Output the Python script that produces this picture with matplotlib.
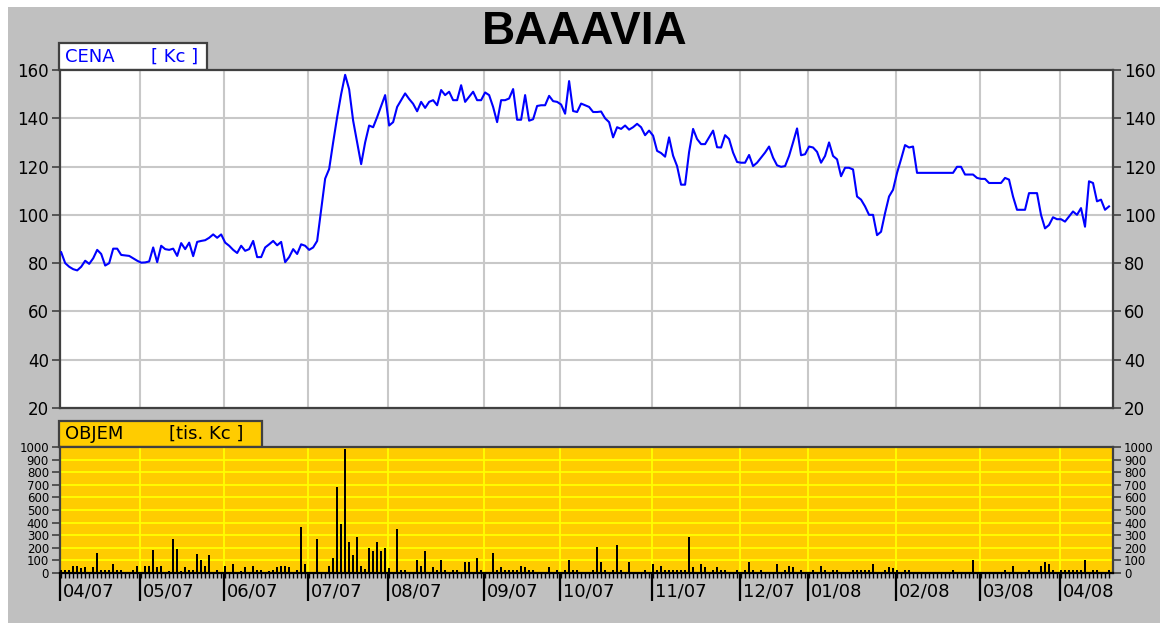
import matplotlib
matplotlib.use("Agg")
import matplotlib.pyplot as plt
import matplotlib.patches as patches
from matplotlib.transforms import blended_transform_factory
import numpy as np

W, H = 1160, 623

month_labels = ["04/07", "05/07", "06/07", "07/07", "08/07", "09/07", "10/07",
                "11/07", "12/07", "01/08", "02/08", "03/08", "04/08"]

# daily close price [Kc], one list per month (trading days)
price_04_07 = [84.5, 80, 78.5, 77.5, 77, 78.5, 81, 79.7, 82, 85.5, 83.8, 79, 80, 86, 86,
               83.4, 83.2, 83, 82, 81]
price_05_07 = [80.2, 80.3, 80.7, 86.5, 80.4, 87.2, 85.8, 85.5, 86, 83, 88.3, 85.8, 88.5,
               82.9, 88.8, 89.2, 89.5, 90.5, 91.9, 90.5, 91.9]
price_06_07 = [88.5, 87.2, 85.5, 84.2, 87.2, 85.1, 85.8, 89.2, 82.5, 82.5, 86.5, 87.8, 89.2,
               87.4, 88.8, 80.4, 82.5, 85.8, 83.8, 87.8, 87.2]
price_07_07 = [85.5, 86.5, 89.2, 102, 115, 119, 130, 140.5, 150, 158, 152, 139, 130, 121,
               130, 137, 136.3, 140.5, 145, 149.6]
price_08_07 = [137, 138.4, 144.7, 147.5, 150.3, 148, 146, 142.9, 146.8, 144.3, 146.8, 147.5,
               145.4, 151.7, 149.6, 151, 147.5, 147.5, 153.7, 146.8, 148.9, 151, 147.5, 147.5]
price_09_07 = [150.7, 149.6, 144.7, 138.4, 147.5, 147.5, 148.2, 152.1, 139.4, 139.4, 149.6,
               139, 139.6, 145.1, 145.4, 145.4, 149.3, 147.1, 146.8]
price_10_07 = [145.7, 141.9, 155.4, 143, 142.6, 146.1, 145.4, 144.7, 142.6, 142.6, 142.8,
               140, 138.4, 132.1, 136.3, 135.6, 137, 135.3, 136.3, 137.7, 136.3, 133, 134.9]
price_11_07 = [132.8, 126.5, 125.6, 124.1, 132.1, 124.5, 120.2, 112.5, 112.5, 126, 135.6,
               131.4, 129.3, 129.3, 132.1, 134.9, 128, 127.9, 133, 131.4, 125.8, 121.9]
price_12_07 = [121.6, 121.6, 124.8, 120.2, 121.6, 123.7, 125.8, 128.3, 123.7, 120.5, 119.9,
               120.2, 124.4, 130, 135.8, 124.7, 125.1]
price_01_08 = [128.3, 127.9, 126.1, 121.6, 124.4, 130, 124.4, 123, 116, 119.5, 119.5, 118.8,
               107.6, 106.3, 103.5, 100, 100, 91.6, 93, 100.7, 107.6, 110.4]
price_02_08 = [117.4, 123, 128.9, 127.9, 128.3, 117.4, 117.4, 117.4, 117.4, 117.4, 117.4,
               117.4, 117.4, 117.4, 117.4, 119.9, 119.9, 116.7, 116.7, 116.7, 115.3]
price_03_08 = [114.9, 114.9, 113.2, 113.2, 113.2, 113.2, 115.3, 114.6, 107.6, 102.1, 102.1,
               102.1, 109, 109, 109, 100, 94.4, 95.8, 99, 98.2]
price_04_08 = [98.2, 97.2, 99.3, 101.4, 100, 102.8, 95.1, 113.9, 113.2, 105.6, 106.3, 102.1,
               103.5]

# daily volume [tis. Kc]
vol_04_07 = [27, 27, 27, 59, 59, 37, 45, 0, 45, 155, 20, 27, 27, 72, 27, 20, 0, 10, 27, 59]
vol_05_07 = [10, 59, 59, 185, 45, 59, 10, 15, 267, 187, 15, 45, 27, 27, 152, 107, 59, 139,
             10, 27, 0]
vol_06_07 = [59, 10, 72, 10, 15, 45, 10, 59, 27, 27, 10, 15, 27, 45, 59, 59, 45, 10, 27,
             365, 72]
vol_07_07 = [0, 10, 267, 10, 0, 59, 123, 685, 392, 987, 245, 139, 283, 59, 32, 200, 171,
             245, 171, 200]
vol_08_07 = [37, 10, 347, 27, 27, 10, 10, 107, 59, 171, 10, 45, 27, 107, 27, 10, 27, 27,
             10, 91, 91, 10, 123, 27]
vol_09_07 = [10, 0, 157, 27, 45, 27, 27, 27, 27, 59, 45, 27, 27, 10, 10, 0, 45, 10, 27]
vol_10_07 = [10, 27, 107, 27, 27, 10, 0, 10, 27, 203, 91, 27, 10, 27, 219, 27, 10, 91, 10,
             10, 10, 27, 10]
vol_11_07 = [75, 27, 59, 27, 27, 27, 27, 27, 27, 283, 45, 10, 75, 45, 10, 27, 45, 27, 27,
             10, 10, 27]
vol_12_07 = [10, 27, 91, 27, 10, 27, 10, 10, 10, 75, 10, 27, 59, 45, 10, 27, 10]
vol_01_08 = [0, 27, 10, 59, 27, 0, 27, 27, 0, 0, 0, 27, 27, 27, 27, 27, 75, 10, 10, 27, 45,
             37]
vol_02_08 = [27, 0, 27, 27, 0, 0, 0, 0, 0, 0, 0, 0, 0, 0, 27, 0, 0, 0, 0, 107, 0]
vol_03_08 = [0, 0, 0, 0, 0, 0, 27, 0, 59, 0, 0, 0, 27, 0, 10, 59, 91, 75, 27, 10]
vol_04_08 = [27, 27, 27, 27, 27, 27, 107, 10, 27, 27, 10, 10, 27]

price_months = [price_04_07, price_05_07, price_06_07, price_07_07, price_08_07, price_09_07,
                price_10_07, price_11_07, price_12_07, price_01_08, price_02_08, price_03_08,
                price_04_08]
vol_months = [vol_04_07, vol_05_07, vol_06_07, vol_07_07, vol_08_07, vol_09_07, vol_10_07,
              vol_11_07, vol_12_07, vol_01_08, vol_02_08, vol_03_08, vol_04_08]

price = sum(price_months, [])
volume = sum(vol_months, [])
days = np.arange(len(price))
month_starts = np.cumsum([0] + [len(m) for m in price_months[:-1]]) - 0.3

BG = "#c0c0c0"
DARK = "#404040"


def fx(px):
    return px / W


def fy(py):
    return 1 - py / H


fig = plt.figure(figsize=(W / 100, H / 100), dpi=100, facecolor="white")
fig.patches.append(patches.Rectangle((fx(8), 0), 1 - fx(8), fy(7), transform=fig.transFigure,
                                     facecolor=BG, edgecolor="none", zorder=-10))

fig.text(fx(585), fy(32), "BAAAVIA", ha="center", va="center", fontsize=33,
         fontweight="bold", family="Liberation Sans", color="black")

# --- price panel ---
ax1 = fig.add_axes([fx(60), fy(408), fx(1113) - fx(60), fy(70) - fy(408)])
ax1.set_facecolor("white")
ax1.plot(days, price, color="#0000ff", lw=1.5, zorder=3)
ax1.set_xlim(-0.2, 263)
ax1.set_ylim(20, 160)
ax1.set_yticks(range(20, 161, 20))
ax1.set_xticks(month_starts)
ax1.tick_params(axis="x", length=0, labelbottom=False)
ax1.tick_params(axis="y", left=True, right=True, labelleft=True, labelright=True,
                labelsize=12, length=6, width=1.2, color=DARK, pad=2)
ax1.grid(True, color="#c8c8c8", lw=1.5, zorder=0)
for s in ax1.spines.values():
    s.set_color(DARK)
    s.set_linewidth(1.6)

fig.patches.append(patches.Rectangle((fx(59), fy(70)), fx(207) - fx(59), fy(43) - fy(70),
                                     transform=fig.transFigure, facecolor="white",
                                     edgecolor=DARK, lw=1.6, zorder=-5))
fig.text(fx(65), fy(57), "CENA", color="#0000ff", fontsize=13, ha="left", va="center")
fig.text(fx(151), fy(57), "[ Kc ]", color="#0000ff", fontsize=13, ha="left", va="center")

# --- volume panel ---
ax2 = fig.add_axes([fx(60), fy(573), fx(1113) - fx(60), fy(447) - fy(573)])
ax2.set_facecolor("#ffcc00")
ax2.bar(days, volume, width=0.45, color="black", zorder=3)
ax2.set_xlim(-0.2, 263)
ax2.set_ylim(0, 1000)
ax2.set_yticks(range(0, 1001, 100))
ax2.set_xticks(month_starts)
ax2.set_xticks(days, minor=True)
ax2.tick_params(axis="x", which="major", length=20, width=1.6, color="black",
                labelbottom=False)
ax2.tick_params(axis="x", which="minor", length=3.5, width=1.0, color="black")
ax2.tick_params(axis="y", left=True, right=True, labelleft=True, labelright=True,
                labelsize=8.5, length=6, width=1.2, color=DARK, pad=2)
ax2.grid(True, color="#ffff00", lw=1.3, zorder=0)
for s in ax2.spines.values():
    s.set_color(DARK)
    s.set_linewidth(1.6)
ax2.spines["bottom"].set_color("black")

fig.patches.append(patches.Rectangle((fx(59), fy(447)), fx(262) - fx(59), fy(421) - fy(447),
                                     transform=fig.transFigure, facecolor="#ffcc00",
                                     edgecolor=DARK, lw=1.6, zorder=-5))
fig.text(fx(65), fy(434), "OBJEM", color="black", fontsize=13, ha="left", va="center")
fig.text(fx(169), fy(434), "[tis. Kc ]", color="black", fontsize=13, ha="left", va="center")

trans = blended_transform_factory(ax2.transData, fig.transFigure)
for s, lab in zip(month_starts, month_labels):
    ax2.text(s + 0.7, fy(591), lab, transform=trans, ha="left", va="center", fontsize=13,
             clip_on=False)

fig.savefig("out.png", dpi=100, facecolor=fig.get_facecolor())
